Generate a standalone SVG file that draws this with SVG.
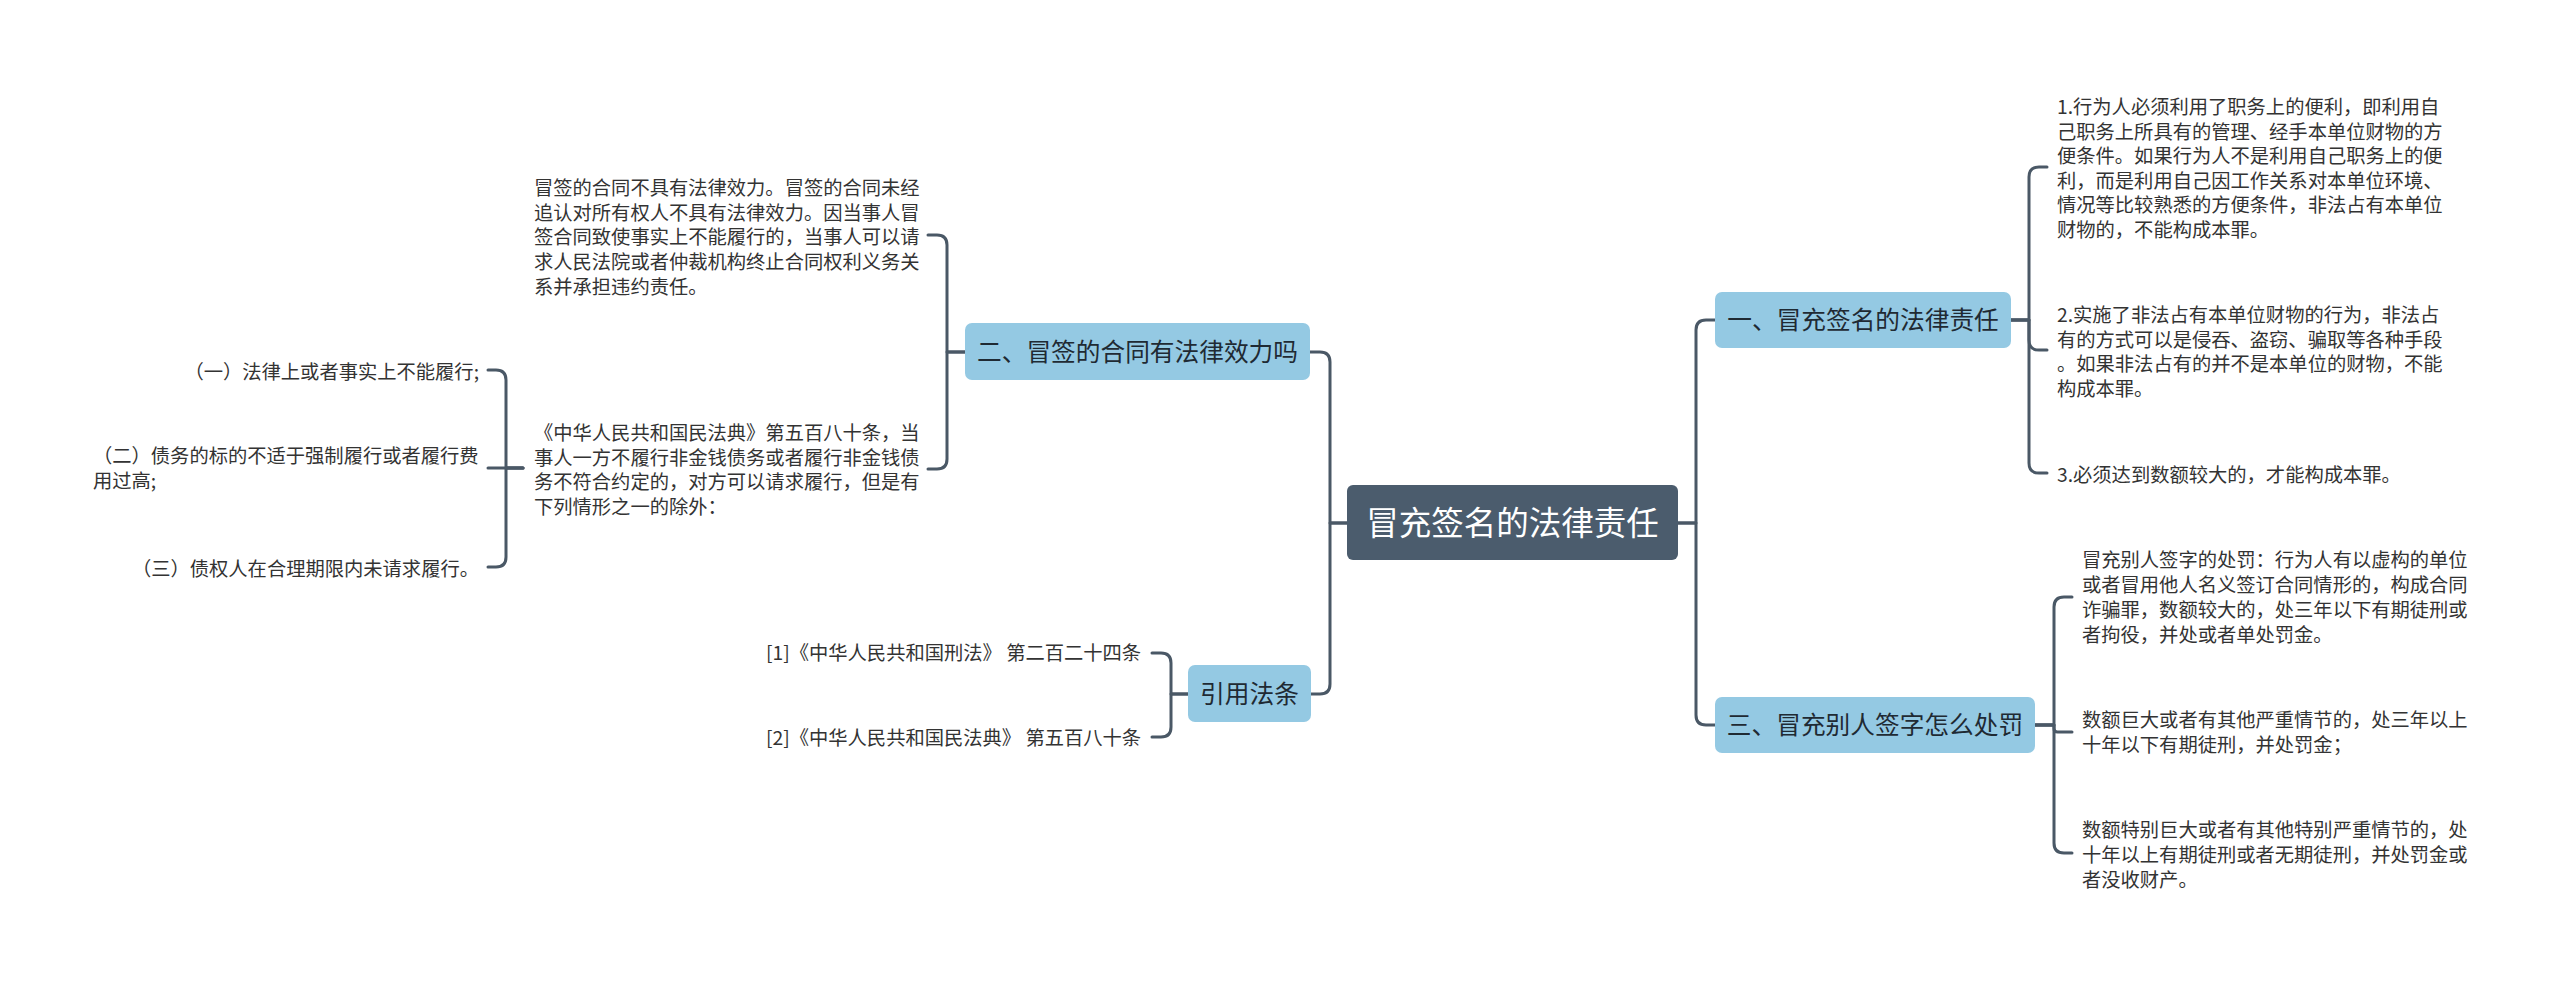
<svg xmlns="http://www.w3.org/2000/svg" width="2560" height="984" viewBox="0 0 2560 984">
<style>
.bg{fill:#ffffff}
.ln{fill:none;stroke:#4a5866;stroke-width:3;stroke-linecap:round;stroke-linejoin:round}
.root{fill:#4b5c6d}
.sub{fill:#94c9e3}
.rt{font-family:"Noto Sans CJK SC","Noto Sans",sans-serif;font-size:32.5px;fill:#ffffff;text-anchor:middle}
.st{font-family:"Noto Sans CJK SC","Noto Sans",sans-serif;font-size:24.7px;fill:#1f2a33;text-anchor:middle}
.tx{font-family:"Noto Sans CJK SC","Noto Sans",sans-serif;font-size:19.3px;fill:#333333}
.end{text-anchor:end}
</style>
<rect class="bg" x="0" y="0" width="2560" height="984"/>
<g id="connectors">
<path class="ln" d="M1348,523 H1330 V362 Q1330,352 1320,352 H1310"/>
<path class="ln" d="M1348,523 H1330 V684 Q1330,694 1320,694 H1311"/>
<path class="ln" d="M1678,523 H1696 V330 Q1696,320 1706,320 H1715"/>
<path class="ln" d="M1678,523 H1696 V715 Q1696,725 1706,725 H1715"/>
<path class="ln" d="M965,352 H947 V245 Q947,235 937,235 H928"/>
<path class="ln" d="M965,352 H947 V459 Q947,469 937,469 H928"/>
<path class="ln" d="M523,468 H506 V380 Q506,370 496,370 H488"/>
<path class="ln" d="M523,468 H488"/>
<path class="ln" d="M523,468 H506 V557 Q506,567 496,567 H488"/>
<path class="ln" d="M1188,694 H1171 V663 Q1171,653 1161,653 H1152"/>
<path class="ln" d="M1188,694 H1171 V727 Q1171,737 1161,737 H1152"/>
<path class="ln" d="M2011,320 H2029 V177 Q2029,167 2039,167 H2047"/>
<path class="ln" d="M2011,320 H2029 V340 Q2029,350 2039,350 H2047"/>
<path class="ln" d="M2011,320 H2029 V463 Q2029,473 2039,473 H2047"/>
<path class="ln" d="M2035,725 H2054 V607 Q2054,597 2064,597 H2072"/>
<path class="ln" d="M2035,725 H2054 V728.5 Q2054,732 2057.5,732 H2072"/>
<path class="ln" d="M2035,725 H2054 V843 Q2054,853 2064,853 H2072"/>
</g>
<g id="root">
<rect class="root" x="1347" y="485" width="331" height="75" rx="6"/>
<text class="rt" x="1512.5" y="534.5">冒充签名的法律责任</text>
</g>
<g id="n-effect">
<rect class="sub" x="965" y="323" width="345" height="57" rx="7"/>
<text class="st" x="1137.5" y="361">二、冒签的合同有法律效力吗</text>
</g>
<g id="n-cite">
<rect class="sub" x="1188" y="665" width="123" height="57" rx="7"/>
<text class="st" x="1249.5" y="702.5">引用法条</text>
</g>
<g id="n-liability">
<rect class="sub" x="1715" y="292" width="296" height="56" rx="7"/>
<text class="st" x="1863" y="329">一、冒充签名的法律责任</text>
</g>
<g id="n-penalty">
<rect class="sub" x="1715" y="697" width="320" height="56" rx="7"/>
<text class="st" x="1875" y="734">三、冒充别人签字怎么处罚</text>
</g>
<g id="n-effect-1">
<text class="tx" x="534" y="195">冒签的合同不具有法律效力。冒签的合同未经</text>
<text class="tx" x="534" y="220">追认对所有权人不具有法律效力。因当事人冒</text>
<text class="tx" x="534" y="244">签合同致使事实上不能履行的，当事人可以请</text>
<text class="tx" x="534" y="269">求人民法院或者仲裁机构终止合同权利义务关</text>
<text class="tx" x="534" y="294">系并承担违约责任。</text>
</g>
<g id="n-effect-2">
<text class="tx" x="534" y="440">《中华人民共和国民法典》第五百八十条，当</text>
<text class="tx" x="534" y="465">事人一方不履行非金钱债务或者履行非金钱债</text>
<text class="tx" x="534" y="489">务不符合约定的，对方可以请求履行，但是有</text>
<text class="tx" x="534" y="514">下列情形之一的除外：</text>
</g>
<g id="n-ex-1">
<text class="tx end" x="479" y="379">（一）法律上或者事实上不能履行;</text>
</g>
<g id="n-ex-2">
<text class="tx" x="93" y="463">（二）债务的标的不适于强制履行或者履行费</text>
<text class="tx" x="93" y="488">用过高;</text>
</g>
<g id="n-ex-3">
<text class="tx end" x="479" y="576">（三）债权人在合理期限内未请求履行。</text>
</g>
<g id="n-cite-1">
<text class="tx" x="766" y="660">[1]《中华人民共和国刑法》 第二百二十四条</text>
</g>
<g id="n-cite-2">
<text class="tx" x="766" y="745">[2]《中华人民共和国民法典》 第五百八十条</text>
</g>
<g id="n-liab-1">
<text class="tx" x="2057" y="114">1.行为人必须利用了职务上的便利，即利用自</text>
<text class="tx" x="2057" y="138.6">己职务上所具有的管理、经手本单位财物的方</text>
<text class="tx" x="2057" y="163.2">便条件。如果行为人不是利用自己职务上的便</text>
<text class="tx" x="2057" y="187.8">利，而是利用自己因工作关系对本单位环境、</text>
<text class="tx" x="2057" y="212.4">情况等比较熟悉的方便条件，非法占有本单位</text>
<text class="tx" x="2057" y="237">财物的，不能构成本罪。</text>
</g>
<g id="n-liab-2">
<text class="tx" x="2057" y="322">2.实施了非法占有本单位财物的行为，非法占</text>
<text class="tx" x="2057" y="347">有的方式可以是侵吞、盗窃、骗取等各种手段</text>
<text class="tx" x="2057" y="371">。如果非法占有的并不是本单位的财物，不能</text>
<text class="tx" x="2057" y="396">构成本罪。</text>
</g>
<g id="n-liab-3">
<text class="tx" x="2057" y="482">3.必须达到数额较大的，才能构成本罪。</text>
</g>
<g id="n-pen-1">
<text class="tx" x="2082" y="567">冒充别人签字的处罚：行为人有以虚构的单位</text>
<text class="tx" x="2082" y="592">或者冒用他人名义签订合同情形的，构成合同</text>
<text class="tx" x="2082" y="617">诈骗罪，数额较大的，处三年以下有期徒刑或</text>
<text class="tx" x="2082" y="642">者拘役，并处或者单处罚金。</text>
</g>
<g id="n-pen-2">
<text class="tx" x="2082" y="727">数额巨大或者有其他严重情节的，处三年以上</text>
<text class="tx" x="2082" y="752">十年以下有期徒刑，并处罚金；</text>
</g>
<g id="n-pen-3">
<text class="tx" x="2082" y="837">数额特别巨大或者有其他特别严重情节的，处</text>
<text class="tx" x="2082" y="862">十年以上有期徒刑或者无期徒刑，并处罚金或</text>
<text class="tx" x="2082" y="887">者没收财产。</text>
</g>
</svg>
